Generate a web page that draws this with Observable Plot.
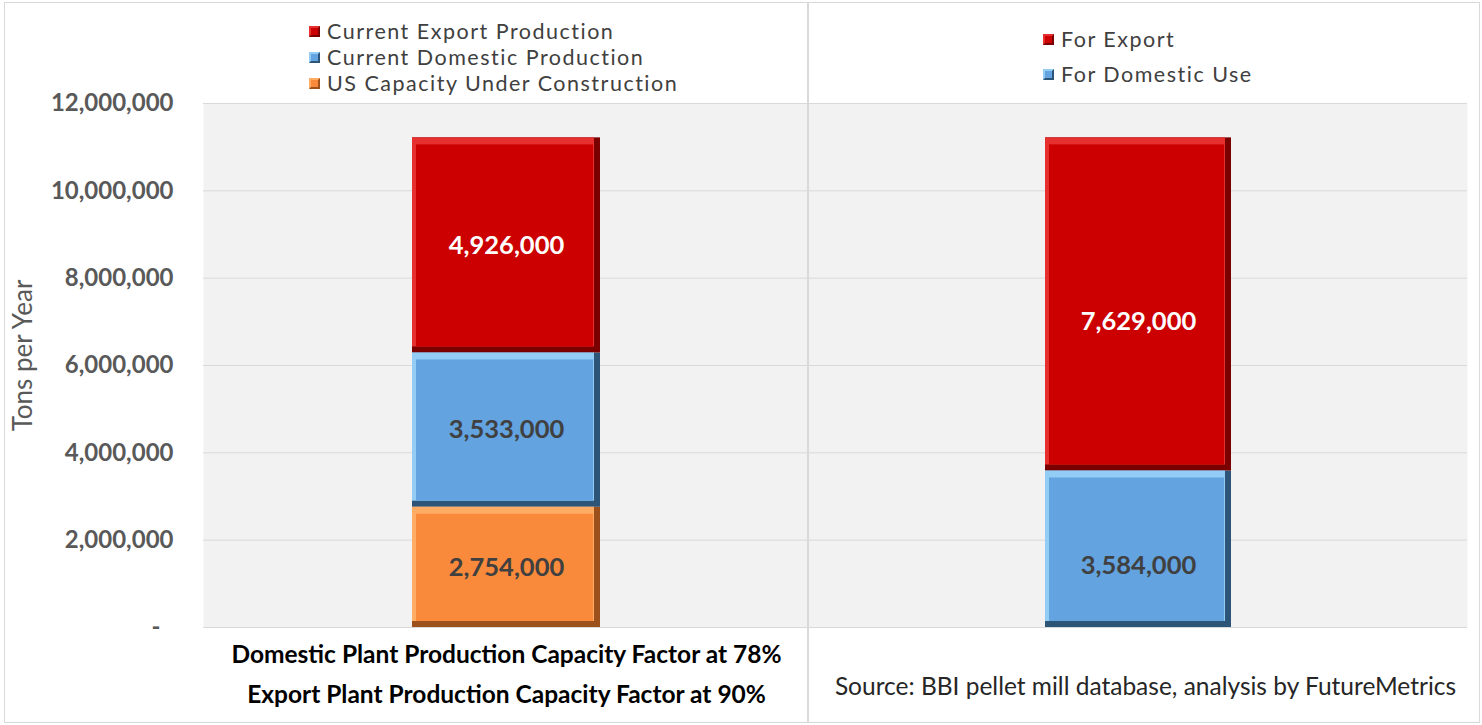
<!DOCTYPE html>
<html><head><meta charset="utf-8">
<script src="https://cdn.jsdelivr.net/npm/d3@7"></script>
<script src="https://cdn.jsdelivr.net/npm/@observablehq/plot@0.6"></script>
<style>
body{margin:0;background:#fff;font-family:Lato,"Open Sans",sans-serif;}
#wrap{position:relative;width:1482px;height:725px;overflow:hidden;background:#fff;}
.leg{position:absolute;font-size:21.5px;letter-spacing:1.5px;color:#404040;line-height:24px;height:24px;white-space:nowrap;display:flex;align-items:center;}
.sw{display:inline-block;width:11px;height:11px;margin-right:7px;box-sizing:border-box;}
.line{position:absolute;background:#d9d9d9;}
</style></head><body><div id="wrap"></div>
<script>
// ---- data ----
const leftCategory = "Domestic Plant Production Capacity Factor at 78%\nExport Plant Production Capacity Factor at 90%";
const leftSeries = ["US Capacity Under Construction", "Current Domestic Production", "Current Export Production"];
const leftValues = [2754000, 3533000, 4926000];
const rightCategory = "Source: BBI pellet mill database, analysis by FutureMetrics";
const rightSeries = ["For Domestic Use", "For Export"];
const rightValues = [3584000, 7629000];
const yTicks = [0, 2000000, 4000000, 6000000, 8000000, 10000000, 12000000];
const leftLegend = ["Current Export Production", "Current Domestic Production", "US Capacity Under Construction"];
const rightLegend = ["For Export", "For Domestic Use"];
const yLabel = "Tons per Year";

// ---- styles ----
const palette = {
  "Current Export Production": {main:"#cc0000", hi:"#e63030", sh:"#7a0000", text:"#ffffff"},
  "For Export": {main:"#cc0000", hi:"#e63030", sh:"#7a0000", text:"#ffffff"},
  "Current Domestic Production": {main:"#62a3e0", hi:"#93cdf6", sh:"#2d5577", text:"#404040"},
  "For Domestic Use": {main:"#62a3e0", hi:"#93cdf6", sh:"#2d5577", text:"#404040"},
  "US Capacity Under Construction": {main:"#fa8a3b", hi:"#ffac64", sh:"#9c511c", text:"#404040"}
};

const leftData = leftSeries.map((s, i) => ({cat: leftCategory, series: s, value: leftValues[i]}));
const rightData = rightSeries.map((s, i) => ({cat: rightCategory, series: s, value: rightValues[i]}));

function bevelBars(data) {
  const base = {x: "cat", y: "value"};
  return [
    Plot.barY(data, {...base, fill: d => palette[d.series].sh}),
    Plot.barY(data, {...base, fill: d => palette[d.series].hi, insetBottom: 6, insetRight: 6}),
    Plot.barY(data, {...base, fill: d => palette[d.series].main, insetTop: 7, insetLeft: 4, insetRight: 7, insetBottom: 6})
  ];
}

const common = {
  height: 725,
  marginTop: 103,
  marginBottom: 98,
  y: {domain: [0, 12000000], axis: null},
  color: {type: "identity"}
};

const fontFam = "Lato, 'Open Sans', sans-serif";

const leftPlot = Plot.plot({
  ...common,
  width: 808,
  marginLeft: 203,
  marginRight: 0,
  x: {domain: [leftCategory], padding: 0.526, axis: null},
  style: {fontFamily: fontFam, background: "transparent", overflow: "visible", color: "#595959"},
  marks: [
    Plot.frame({fill: "#f2f2f2", stroke: null}),
    Plot.gridY(yTicks, {stroke: "#d9d9d9", strokeOpacity: 1}),
    ...bevelBars(leftData),
    Plot.text(leftData, Plot.stackY({x: "cat", y: "value", text: d => d3.format(",")(d.value), fill: d => palette[d.series].text, fontSize: 25.5, fontWeight: "bold"})),
    Plot.axisY(yTicks.filter(d => d !== 0), {tickSize: 0, tickPadding: 30, tickFormat: d3.format(","), fontSize: 24, fontWeight: "bold", color: "#595959", label: null}),
    Plot.axisY([0], {tickSize: 0, tickPadding: 43, tickFormat: () => "-", fontSize: 24, fontWeight: "bold", color: "#595959", label: null}),
    Plot.axisX({tickSize: 0, tickPadding: 7, fontSize: 24.5, fontWeight: "bold", lineHeight: 1.63, color: "#000000", label: null}),
    Plot.text([yLabel], {text: d => d, frameAnchor: "left", textAnchor: "middle", dx: -180, dy: -10, rotate: -90, fontSize: 26, fill: "#595959"})
  ]
});

const rightPlot = Plot.plot({
  ...common,
  width: 674,
  marginLeft: 0,
  marginRight: 15,
  x: {domain: [rightCategory], padding: 0.56, axis: null},
  style: {fontFamily: fontFam, background: "transparent", overflow: "visible", color: "#262626"},
  marks: [
    Plot.frame({fill: "#f2f2f2", stroke: null}),
    Plot.gridY(yTicks, {stroke: "#d9d9d9", strokeOpacity: 1}),
    ...bevelBars(rightData),
    Plot.text(rightData, Plot.stackY({x: "cat", y: "value", text: d => d3.format(",")(d.value), fill: d => palette[d.series].text, fontSize: 25.5, fontWeight: "bold", dy: 17})),
    Plot.axisX({tickSize: 0, tickPadding: 50, fontSize: 24.5, color: "#262626", label: null, dx: 7})
  ]
});

const wrap = document.getElementById("wrap");
leftPlot.style.position = "absolute"; leftPlot.style.left = "0px"; leftPlot.style.top = "0px";
rightPlot.style.position = "absolute"; rightPlot.style.left = "808px"; rightPlot.style.top = "0px";
wrap.appendChild(leftPlot);
wrap.appendChild(rightPlot);

// border lines
function addLine(l, t, w, h) { const d = document.createElement("div"); d.className = "line"; Object.assign(d.style, {left: l + "px", top: t + "px", width: w + "px", height: h + "px"}); wrap.appendChild(d); }
addLine(4, 2, 1476, 1);
addLine(4, 722, 1476, 1);
addLine(4, 2, 1, 721);
addLine(1479, 2, 1, 721);
addLine(807, 2, 2, 721);

// legends
function addLegend(items, left, tops) {
  items.forEach((s, i) => {
    const d = document.createElement("div");
    d.className = "leg";
    d.style.left = left + "px";
    d.style.top = (tops[i] - 12) + "px";
    const sw = document.createElement("span");
    sw.className = "sw";
    const p = palette[s];
    sw.style.background = p.main;
    sw.style.borderTop = "2px solid " + p.hi;
    sw.style.borderLeft = "2px solid " + p.hi;
    sw.style.borderRight = "2px solid " + p.sh;
    sw.style.borderBottom = "2px solid " + p.sh;
    d.appendChild(sw);
    const t = document.createElement("span");
    t.textContent = s;
    d.appendChild(t);
    wrap.appendChild(d);
  });
}
addLegend(leftLegend, 309, [31, 57, 83]);
addLegend(rightLegend, 1043, [39, 74]);
</script>
</body></html>
